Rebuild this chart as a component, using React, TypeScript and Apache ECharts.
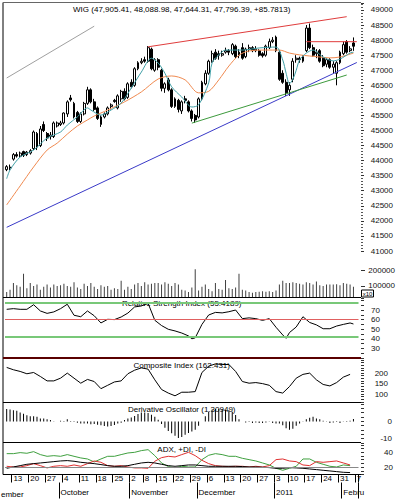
import React, { useEffect, useRef } from 'react';
import * as echarts from 'echarts';

const FONT = '"Liberation Sans", Arial, Helvetica, sans-serif';

// ---------- calendar (trading days of the Warsaw exchange) ----------
const FIRST_DAY = '2010-09-09';
const LAST_DAY = '2011-02-07'; // last slot is an empty session on the axis
const HOLIDAYS = ['2010-11-01', '2010-11-11', '2011-01-06'];
const MONTH_LABELS: Record<string, string> = {
  '10': 'October',
  '11': 'November',
  '12': 'December',
  '01': '2011',
  '02': 'Febru',
};

function buildDays(): string[] {
  const out: string[] = [];
  const d = new Date(FIRST_DAY + 'T00:00:00Z');
  const end = new Date(LAST_DAY + 'T00:00:00Z');
  while (d <= end) {
    const wd = d.getUTCDay();
    const s = d.toISOString().slice(0, 10);
    if (wd !== 0 && wd !== 6 && HOLIDAYS.indexOf(s) < 0) out.push(s);
    d.setUTCDate(d.getUTCDate() + 1);
  }
  return out;
}
const dates = buildDays();

// ---------- price (OHLC) ----------
const opens = [
  43700, 43780, 44050, 44200, 44150, 44300, 44200, 44250, 44400, 44900,
  44500, 45200, 44900, 44800, 44800, 45150, 45200, 45250, 45550, 46080,
  45900, 45600, 45300, 45550, 45900, 46350, 45950, 45750, 45200, 45450,
  45550, 45800, 46000, 45750, 46050, 46300, 46100, 46600, 46500, 47050,
  47250, 47350, 47300, 47700, 47000, 47350, 47000, 46400, 46680, 46350,
  45800, 46000, 45650, 46050, 45950, 45650, 45500, 45450, 46050, 46550,
  46900, 47300, 47600, 47550, 47500, 47600, 47650, 47550, 47800, 47600,
  47750, 47450, 47700, 47750, 47650, 47650, 47550, 47500, 47750, 47950,
  48100, 47600, 46900, 46600, 46350, 46700, 47350, 47400, 47300, 47650,
  48400, 47750, 47550, 47650, 47400, 47200, 47350, 47100, 46900, 47250,
  47550, 47950, 47650, 47905.41,
];
const closes = [
  43800, 43760, 44200, 44150, 44250, 44180, 44280, 44330, 44950, 44450,
  45050, 45000, 44750, 44850, 45250, 45250, 45250, 45580, 45950, 46020,
  45450, 45300, 45550, 45900, 46350, 45950, 45700, 45400, 45450, 45550,
  45750, 45850, 45960, 46150, 46300, 46050, 46550, 46450, 47050, 47250,
  47300, 47300, 47750, 47050, 47350, 47100, 46400, 46550, 46350, 45800,
  46050, 45700, 45950, 46000, 45650, 45400, 45350, 46050, 46600, 46900,
  47300, 47550, 47400, 47500, 47550, 47650, 47600, 47850, 47450, 47500,
  47400, 47700, 47750, 47650, 47700, 47500, 47480, 47800, 47950, 48000,
  47650, 46700, 46600, 46250, 46500, 47300, 47400, 47350, 47450, 48400,
  47750, 47500, 47600, 47300, 47150, 47350, 47100, 47200, 47250, 47600,
  47850, 47600, 47710.61, 47796.39,
];
const lows = [
  43650, 43680, 44000, 44100, 44100, 44120, 44150, 44200, 44350, 44350,
  44450, 44950, 44650, 44700, 44750, 45100, 45150, 45200, 45450, 45960,
  45400, 45250, 45250, 45500, 45850, 45900, 45650, 45350, 45120, 45400,
  45500, 45700, 45920, 45700, 45950, 46000, 46050, 46400, 46450, 47000,
  47200, 47250, 47250, 47000, 46950, 47000, 46300, 46250, 46300, 45750,
  45750, 45600, 45550, 45900, 45600, 45300, 45250, 45400, 46000, 46500,
  46850, 47250, 47350, 47350, 47450, 47550, 47500, 47500, 47400, 47400,
  47350, 47400, 47600, 47600, 47600, 47450, 47420, 47450, 47700, 47900,
  47600, 46650, 46550, 46150, 46150, 46600, 47250, 47250, 47250, 47600,
  47700, 47450, 47400, 47250, 47100, 47100, 47050, 46900, 46500, 47200,
  47500, 47550, 47600, 47644.31,
];
const highs = [
  43850, 43870, 44250, 44280, 44300, 44330, 44320, 44380, 45000, 44950,
  45150, 45300, 44950, 44950, 45300, 45300, 45320, 45600, 46000, 46180,
  45950, 45650, 45600, 45950, 46450, 46400, 46050, 45800, 45500, 45600,
  45800, 45900, 46050, 46200, 46350, 46400, 46600, 46700, 47100, 47300,
  47400, 47450, 47800, 47750, 47400, 47400, 47050, 46600, 46750, 46400,
  46100, 46050, 46000, 46150, 46000, 45700, 45550, 46100, 46650, 47000,
  47350, 47650, 47700, 47650, 47650, 47750, 47700, 47900, 47850, 47700,
  47900, 47750, 47850, 47800, 47800, 47700, 47600, 47850, 48050, 48100,
  48150, 47650, 47000, 46700, 46600, 47400, 47500, 47450, 47500, 48500,
  48550, 47850, 47700, 47700, 47500, 47400, 47400, 47300, 47300, 47650,
  47950, 48000, 47800, 48088.98,
];

// moving averages: [session index, value]
const maFast = [
  [0, 43400], [1, 43690], [4, 44120], [8, 44350], [12, 44750], [16, 44950],
  [18, 45180], [21, 45450], [24, 45750], [25, 45680], [28, 45510], [31, 45680],
  [34, 45910], [37, 46410], [40, 46940], [43, 47400], [45, 47240], [47, 46900],
  [49, 46450], [52, 46110], [55, 45780], [57, 45850], [60, 46580], [61, 47240],
  [63, 47510], [65, 47670], [70, 47670], [75, 47740], [80, 47770], [82, 47340],
  [83, 46900], [84, 46550], [85, 46700], [86, 47000], [87, 47340], [89, 47570],
  [91, 47670], [94, 47440], [97, 47310], [99, 47370], [102, 47570], [103, 47600],
];
const maSlow = [
  [0, 42530], [4, 43160], [8, 43790], [12, 44350], [15, 44580], [18, 44880],
  [21, 45150], [24, 45350], [26, 45480], [30, 45680], [35, 45950], [40, 46280],
  [45, 46710], [49, 46810], [53, 46680], [57, 46250], [60, 46300], [63, 46680],
  [66, 47140], [69, 47500], [72, 47640], [77, 47670], [81, 47670], [84, 47570],
  [87, 47510], [93, 47440], [96, 47410], [99, 47440], [103, 47570],
];

// trend lines: [start index, start price, end index, end price]
const trendGray = [0, 46742, 26, 48462];
const trendRed = [42, 47778, 101, 48778];
const levelRed = [89, 47948, 104, 47948];
const trendBlue = [0, 41786, 104, 47257];
const trendGreen = [55, 45245, 101, 46842];

// ---------- volume ----------
const volumes = [
  60000, 75000, 120000, 105000, 95000, 180000, 85000, 120000, 100000, 110000,
  75000, 95000, 110000, 90000, 110000, 100000, 105000, 115000, 100000, 95000,
  125000, 90000, 80000, 115000, 100000, 120000, 95000, 80000, 105000, 95000,
  100000, 75000, 85000, 80000, 135000, 75000, 95000, 80000, 110000, 120000,
  100000, 125000, 110000, 115000, 120000, 120000, 110000, 125000, 115000, 100000,
  120000, 110000, 75000, 70000, 60000, 90000, 210000, 70000, 95000, 110000,
  80000, 65000, 120000, 80000, 75000, 140000, 85000, 80000, 90000, 180000,
  75000, 70000, 60000, 55000, 60000, 62000, 65000, 62000, 65000, 60000,
  70000, 110000, 135000, 120000, 120000, 125000, 120000, 115000, 110000, 125000,
  120000, 110000, 130000, 105000, 100000, 110000, 110000, 110000, 112000, 105000,
  120000, 115000, 110000, 95000,
];

// ---------- indicators ----------
const rsiPoints = [
  [0, 70.7], [2, 71.4], [4, 70.7], [6, 70.7], [8, 75.5], [10, 69], [12, 66.5],
  [14, 68], [16, 71.4], [18, 76], [20, 64.5], [22, 63], [24, 69], [26, 64],
  [28, 56.5], [30, 60.3], [32, 60], [34, 62.7], [36, 66.8], [38, 73.2], [40, 74.2],
  [42, 77], [44, 59.3], [46, 53.8], [48, 49.9], [50, 48.2], [52, 46], [54, 43],
  [55, 40], [56, 41], [58, 55], [60, 64.8], [62, 67.5], [64, 67], [66, 68.2],
  [68, 70], [70, 61], [72, 61.8], [74, 61], [76, 59.2], [78, 61], [80, 52],
  [82, 44], [83, 40.5], [84, 46.5], [86, 52.3], [88, 63], [90, 57], [92, 54.5],
  [94, 50.5], [96, 50.5], [98, 53.3], [100, 55], [102, 56.5], [103, 55.4189],
];
const compositeEveryOther = [
  227, 216, 208, 197, 203, 184, 163, 163, 176, 200,
  176, 152, 170, 160, 126, 142, 158, 163, 197, 214,
  225, 219, 168, 122, 105, 92, 109, 109, 112, 203,
  233, 244, 241, 241, 208, 160, 152, 155, 150, 142,
  112, 105, 136, 176, 194, 200, 168, 146, 139, 155,
  181, 194,
];
const derivOsc = [
  7.1, 6.9, 6.5, 6.2, 5.2, 4.4, 3.5, 2.9, 2.9, 2.7,
  1.7, 1.7, 1.3, 0.8, -0.2, 0, 0.4, 0.2, 1.2, 0.2,
  -0.4, -0.8, -1.2, -1.3, -1.2, -1.7, -1.5, -1.9, -2.3, -2.7,
  -2.9, -2.7, -2.1, -1.2, -0.8, 0.8, 1.7, 2.3, 3.1, 4.2,
  5.2, 5.2, 4.8, 3.8, 2.7, 1, -1.5, -3.7, -5.6, -6.9,
  -8.3, -9.6, -9, -7.7, -6.7, -5.8, -4.8, -2.5, 0, 2.9,
  5.6, 6.7, 7.1, 7.1, 7.1, 6.7, 6.5, 5.6, 3.7, 1.3,
  0, -0.6, -0.4, -1, -0.6, -1, -1, -0.6, -0.2, -1,
  -1.3, -1.2, -2.3, -4, -4.8, -4.2, -2.5, -1.2, -0.2, 1.2,
  2.1, 2.7, 1.7, 1.2, 0.4, -0.2, -1, -0.6, -0.4, -1,
  -0.2, -0.4, 0.4, 1.31,
];
const plusDiEveryOther = [
  38.2, 38.2, 39.6, 38.7, 40.9, 36.9, 34.6, 35.5, 34.6, 36.9,
  34.6, 32.4, 31, 27, 31, 34.6, 34.6, 36.9, 39.1, 40,
  42.3, 43.6, 35.5, 25.6, 20.7, 19.3, 21.1, 20.2, 20.2, 30.1,
  36, 38.2, 36.9, 34.6, 34.6, 31.9, 30.1, 28.3, 25.6, 22.9,
  18.4, 15.7, 18.4, 21.1, 31, 31, 26.5, 23.8, 21.1, 20.2,
  22.9, 22,
];
const minusDiEveryOther = [
  21.1, 20.2, 20.2, 22, 24.7, 22, 18.9, 21.1, 22, 21.1,
  22.9, 21.1, 24.7, 28.3, 26.5, 22, 21.1, 22, 20.2, 18.9,
  18.9, 18.4, 27.9, 32.8, 34.6, 33.7, 36.9, 40, 35.5, 29.2,
  24.7, 22, 21.1, 20.7, 21.1, 21.1, 20.2, 21.1, 20.2, 22,
  30.1, 31, 28.3, 27.4, 22.9, 22, 27.4, 26.5, 27.4, 28.3,
  25.6, 22.9,
];
const adxEveryOther = [
  18.4, 20.2, 22, 23.8, 24.7, 25.6, 26.5, 27.4, 28.3, 28.8,
  27.9, 26.5, 25.6, 24.7, 23.4, 22, 21.1, 21.1, 22, 23.8,
  25.6, 26.5, 25.6, 23.8, 22, 21.1, 22, 22.9, 22.9, 22,
  21.1, 21.1, 21.1, 21.1, 21.1, 20.7, 20.2, 20.2, 19.8, 19.3,
  18.4, 18.4, 19.3, 18.9, 18.4, 17.5, 16.6, 15.7, 14.8, 13.9,
  13, 12.6,
];

// ---------- tick labels ----------
const priceTicks = [
  41000, 41500, 42000, 42500, 43000, 43500, 44000, 44500, 45000,
  45500, 46000, 46500, 47000, 47500, 48000, 48500, 49000,
];
const volumeTicks = [100000, 200000];
const rsiTicks = [30, 40, 50, 60, 70];
const rsiLevels = { upper: 78, middle: 60, lower: 42 };
const compositeTicks = [100, 150, 200];
const derivTicks = [-10, 0];
const adxTicks = [20, 40];
const adxLevel = 20;

const titles = {
  price: 'WIG (47,905.41, 48,088.98, 47,644.31, 47,796.39, +85.7813)',
  rsi: 'Relative Strength Index (55.4189)',
  composite: 'Composite Index (162.431)',
  deriv: 'Derivative Oscillator (1.30949)',
  adx: 'ADX, +DI, -DI',
};

// ---------- helpers ----------
const dayOf = (s: string) => new Date(s + 'T00:00:00Z');
const isWeekStart = dates.map((s, i) => {
  if (i === 0) return false;
  const a = dayOf(s);
  const b = dayOf(dates[i - 1]);
  return a.getUTCDay() < b.getUTCDay() || a.getTime() - b.getTime() >= 7 * 86400000;
});
const isMonthStart = dates.map((s, i) => i > 0 && s.slice(5, 7) !== dates[i - 1].slice(5, 7));
const everyOther = (arr: number[]) => arr.map((v, k) => [k * 2, v]);
const segment = (t: number[]) => [[t[0], t[1]], [t[2], t[3]]];

const GRID_LEFT = 5;
const GRID_RIGHT = 41.5;
const grids = [
  { top: 3, height: 248 },
  { top: 260, height: 37 },
  { top: 298, height: 60 },
  { top: 358, height: 44 },
  { top: 402, height: 41 },
  { top: 443, height: 31.5 },
].map((g) => ({ left: GRID_LEFT, right: GRID_RIGHT, ...g }));

const hiddenX = (gi: number) => ({
  type: 'category',
  gridIndex: gi,
  data: dates,
  boundaryGap: true,
  show: false,
});

const yAxis = (
  gi: number,
  min: number,
  max: number,
  labels: number[],
  margin: number,
  extra: any = {}
) => ({
  type: 'value',
  gridIndex: gi,
  position: 'right',
  offset: 2.5,
  min,
  max,
  splitLine: { show: false },
  axisLine: { show: false },
  axisTick: { show: true, length: 3, lineStyle: { color: '#333' } },
  axisLabel: {
    customValues: labels,
    formatter: (v: number) => String(v),
    fontSize: 8,
    fontFamily: FONT,
    color: '#111',
    align: 'right',
    margin,
  },
  ...extra,
});

const lineSeries = (data: any[], color: string, xi: number, yi: number, extra: any = {}) => ({
  type: 'line',
  xAxisIndex: xi,
  yAxisIndex: yi,
  data,
  symbol: 'none',
  silent: true,
  lineStyle: { color, width: 1 },
  ...extra,
});

const txt = (text: string, x: number, y: number, align = 'center') => ({
  type: 'text',
  x,
  y,
  silent: true,
  style: { text, font: `8px ${FONT}`, fill: '#000', align, verticalAlign: 'middle' },
});
const hline = (y: number, color = '#000', w = 1) => ({
  type: 'line',
  silent: true,
  shape: { x1: 3, y1: y, x2: 361, y2: y },
  style: { stroke: color, lineWidth: w },
});

const option: any = {
  animation: false,
  backgroundColor: '#fff',
  textStyle: { fontFamily: FONT, fontSize: 8 },
  grid: grids,
  xAxis: [
    hiddenX(0),
    hiddenX(1),
    hiddenX(2),
    hiddenX(3),
    hiddenX(4),
    {
      type: 'category',
      gridIndex: 5,
      data: dates,
      boundaryGap: true,
      position: 'bottom',
      axisLine: { show: false },
      axisTick: {
        show: true,
        interval: (i: number) => isWeekStart[i],
        length: 8,
        lineStyle: { color: '#000' },
      },
      axisLabel: {
        interval: (i: number) => isWeekStart[i],
        formatter: (v: string) => String(Number(v.slice(8, 10))),
        align: 'left',
        margin: 0,
        fontSize: 8,
        fontFamily: FONT,
        color: '#000',
      },
    },
    {
      type: 'category',
      gridIndex: 5,
      data: dates,
      boundaryGap: true,
      position: 'bottom',
      offset: 8,
      axisLine: { show: false },
      axisTick: {
        show: true,
        interval: (i: number) => isMonthStart[i],
        length: 16,
        lineStyle: { color: '#000' },
      },
      axisLabel: {
        interval: (i: number) => isMonthStart[i],
        formatter: (v: string) => MONTH_LABELS[v.slice(5, 7)] || '',
        align: 'left',
        margin: 6,
        fontSize: 8,
        fontFamily: FONT,
        color: '#000',
      },
    },
  ],
  yAxis: [
    yAxis(0, 41000, 49232, priceTicks, 32, {
      interval: 500,
      minorTick: { show: true, splitNumber: 5, length: 2, lineStyle: { color: '#555' } },
    }),
    yAxis(1, 28000, 270000, volumeTicks, 34, {
      axisTick: { show: true, length: 4, customValues: volumeTicks, lineStyle: { color: '#333' } },
    }),
    yAxis(2, 20, 82.5, rsiTicks, 19, { interval: 5 }),
    yAxis(3, 62.5, 272, compositeTicks, 27, { interval: 12.5 }),
    yAxis(4, -12.5, 11.2, derivTicks, 31, { interval: 2.5 }),
    yAxis(5, 10, 52.6, adxTicks, 32, { interval: 5 }),
  ],
  series: [
    lineSeries(segment(trendGray), '#a0a0a0', 0, 0),
    lineSeries(segment(trendBlue), '#3a3ac8', 0, 0),
    lineSeries(segment(trendGreen), '#3d9a3d', 0, 0),
    lineSeries(segment(trendRed), '#e03c3c', 0, 0),
    lineSeries(segment(levelRed), '#e03c3c', 0, 0),
    {
      type: 'candlestick',
      xAxisIndex: 0,
      yAxisIndex: 0,
      barWidth: 2.4,
      silent: true,
      data: opens.map((o, i) => [o, closes[i], lows[i], highs[i]]),
      itemStyle: {
        color: '#ffffff',
        color0: '#000000',
        borderColor: '#000000',
        borderColor0: '#000000',
        borderWidth: 1,
      },
    },
    lineSeries(maSlow, '#f08a50', 0, 0, { smooth: 0.3 }),
    lineSeries(maFast, '#3f9fa6', 0, 0, { smooth: 0.3 }),
    {
      type: 'bar',
      xAxisIndex: 1,
      yAxisIndex: 1,
      barWidth: 1,
      silent: true,
      data: volumes,
      itemStyle: { color: '#404040' },
    },
    lineSeries(rsiPoints, '#000', 2, 2, {
      markLine: {
        silent: true,
        symbol: 'none',
        label: { show: false },
        data: [
          { yAxis: rsiLevels.upper, lineStyle: { color: '#78c878', width: 2, type: 'solid' } },
          { yAxis: rsiLevels.middle, lineStyle: { color: '#e06060', width: 1, type: 'solid' } },
          { yAxis: rsiLevels.lower, lineStyle: { color: '#78c878', width: 2, type: 'solid' } },
        ],
      },
    }),
    lineSeries(everyOther(compositeEveryOther), '#000', 3, 3),
    {
      type: 'bar',
      xAxisIndex: 4,
      yAxisIndex: 4,
      barWidth: 1,
      silent: true,
      data: derivOsc,
      itemStyle: { color: '#000' },
    },
    lineSeries(everyOther(plusDiEveryOther), '#3fa03f', 5, 5, {
      markLine: {
        silent: true,
        symbol: 'none',
        label: { show: false },
        data: [{ yAxis: adxLevel, lineStyle: { color: '#888', width: 1, type: 'solid' } }],
      },
    }),
    lineSeries(everyOther(minusDiEveryOther), '#e03030', 5, 5),
    lineSeries(everyOther(adxEveryOther), '#000', 5, 5),
  ],
  graphic: [
    {
      type: 'line',
      silent: true,
      shape: { x1: 3, y1: 2.5, x2: 3, y2: 474.5 },
      style: { stroke: '#000', lineWidth: 1 },
    },
    hline(2.5, '#666'),
    hline(297.5),
    hline(358, '#5a0000', 2),
    hline(402.5),
    hline(442.5),
    hline(474.5),
    txt(titles.price, 181.7, 9.5),
    txt(titles.rsi, 181.7, 303.5),
    txt(titles.composite, 181.7, 365),
    txt(titles.deriv, 181.7, 409),
    txt(titles.adx, 181.7, 449),
    txt('ember', 1, 494, 'left'),
    {
      type: 'rect',
      silent: true,
      shape: { x: 361.5, y: 290, width: 12, height: 7 },
      style: { fill: '#fff', stroke: '#000', lineWidth: 1 },
    },
    {
      type: 'text',
      x: 367.5,
      y: 293.7,
      silent: true,
      style: { text: 'x10', font: `6px ${FONT}`, fill: '#000', align: 'center', verticalAlign: 'middle' },
    },
  ],
};

export default function App() {
  const ref = useRef<HTMLDivElement>(null);
  useEffect(() => {
    if (!ref.current) return;
    const chart = echarts.init(ref.current, undefined, { renderer: 'svg' });
    chart.setOption(option);
    return () => chart.dispose();
  }, []);
  return (
    <div
      ref={ref}
      style={{ position: 'fixed', left: 0, top: 0, width: 400, height: 502, background: '#fff' }}
    />
  );
}
